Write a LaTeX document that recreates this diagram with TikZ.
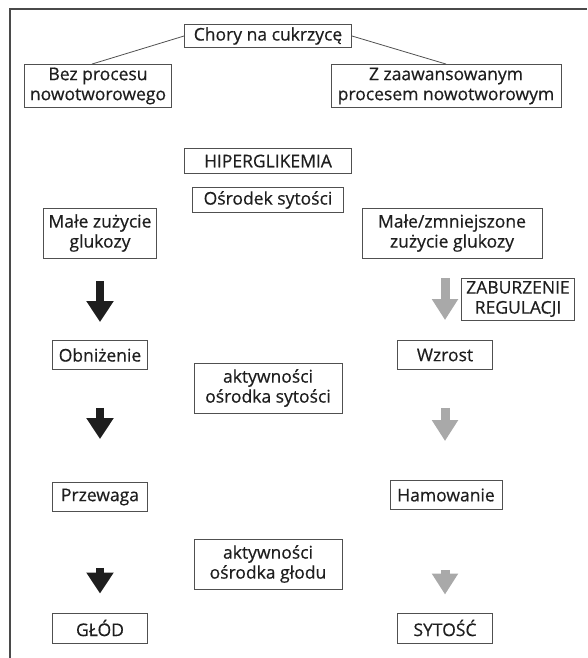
\documentclass[tikz,border=0pt]{standalone}
\usepackage{fontspec}
\setmainfont{Open Sans}[FakeBold=0.5]
\usetikzlibrary{arrows.meta}
\definecolor{boxgray}{HTML}{505050}
\definecolor{framegray}{HTML}{4A4A4A}
\definecolor{inkblack}{HTML}{1E1E1E}
\definecolor{lightgray}{HTML}{A9A9A9}

\begin{document}
\begin{tikzpicture}[
x=1pt,y=-1pt,
mybox/.style={
  draw=boxgray,
  line width=0.9pt,
  align=center,
  inner sep=0pt,
  text=inkblack,
  font=\fontsize{17.5}{20}\selectfont
  },
darkarrow/.style={draw=inkblack,line width=8pt,-{Triangle[width=26pt,length=21pt]}},
greyarrow/.style={draw=lightgray,line width=9pt,-{Triangle[width=25pt,length=21pt]}}
]
\useasboundingbox (0,0) rectangle (587,658);
% frame
\draw[framegray,line width=2.2pt] (10,658) -- (10,9) -- (587,9);

% top
\node[mybox,minimum width=167pt,minimum height=23pt] (chory) at (268,36) {Chory na cukrzycę};
\node[mybox,minimum width=147pt,minimum height=43pt] (bez) at (98,86) {Bez procesu\\nowotworowego};
\node[mybox,minimum width=230pt,minimum height=43pt] (zaaw) at (446,86) {Z zaawansowanym\\procesem nowotworowym};
\draw[boxgray,line width=0.8pt] (chory.west) -- ([xshift=-6pt]bez.north);
\draw[boxgray,line width=0.8pt] (chory.east) -- (zaaw.north);

% middle
\node[mybox,minimum width=167pt,minimum height=25pt] (hiper) at (268,161) {HIPERGLIKEMIA};
\node[mybox,minimum width=151pt,minimum height=25pt] (osrodek) at (268,200) {Ośrodek sytości};
\node[mybox,minimum width=113pt,minimum height=50pt] (male) at (100,233) {Małe zużycie\\glukozy};
\node[mybox,minimum width=180pt,minimum height=50pt] (zmn) at (452,233) {Małe/zmniejszone\\zużycie glukozy};
\node[mybox,minimum width=113pt,minimum height=42pt] (zab) at (518,299) {ZABURZENIE\\REGULACJI};

% columns
\node[mybox,minimum width=95pt,minimum height=29pt] (obniz) at (100,355) {Obniżenie};
\node[mybox,minimum width=95pt,minimum height=29pt] (wzrost) at (445,355) {Wzrost};
\node[mybox,minimum width=148pt,minimum height=50pt] (aktsyt) at (268,388) {aktywności\\ośrodka sytości};
\node[mybox,minimum width=95pt,minimum height=29pt] (przew) at (100,497) {Przewaga};
\node[mybox,minimum width=112pt,minimum height=29pt] (hamow) at (446,495) {Hamowanie};
\node[mybox,minimum width=148pt,minimum height=50pt] (aktglod) at (268,564) {aktywności\\ośrodka głodu};
\node[mybox,minimum width=95pt,minimum height=30pt] (glod) at (100,628) {GŁÓD};
\node[mybox,minimum width=95pt,minimum height=30pt] (sytosc) at (445,628) {SYTOŚĆ};

% arrows
\draw[darkarrow,shorten <=23pt,shorten >=18pt] (male) -- (obniz);
\draw[darkarrow,shorten <=38pt,shorten >=43pt] (obniz) -- (przew);
\draw[darkarrow,shorten <=56pt,shorten >=19pt] (przew) -- (glod);
\draw[greyarrow,shorten <=20pt,shorten >=20pt] (zmn.south -| wzrost) -- (wzrost);
\draw[greyarrow,shorten <=38pt,shorten >=39pt] (wzrost) -- (hamow.north -| wzrost);
\draw[greyarrow,shorten <=60pt,shorten >=18pt] (hamow.south -| wzrost) -- (sytosc);
\end{tikzpicture}
\end{document}
